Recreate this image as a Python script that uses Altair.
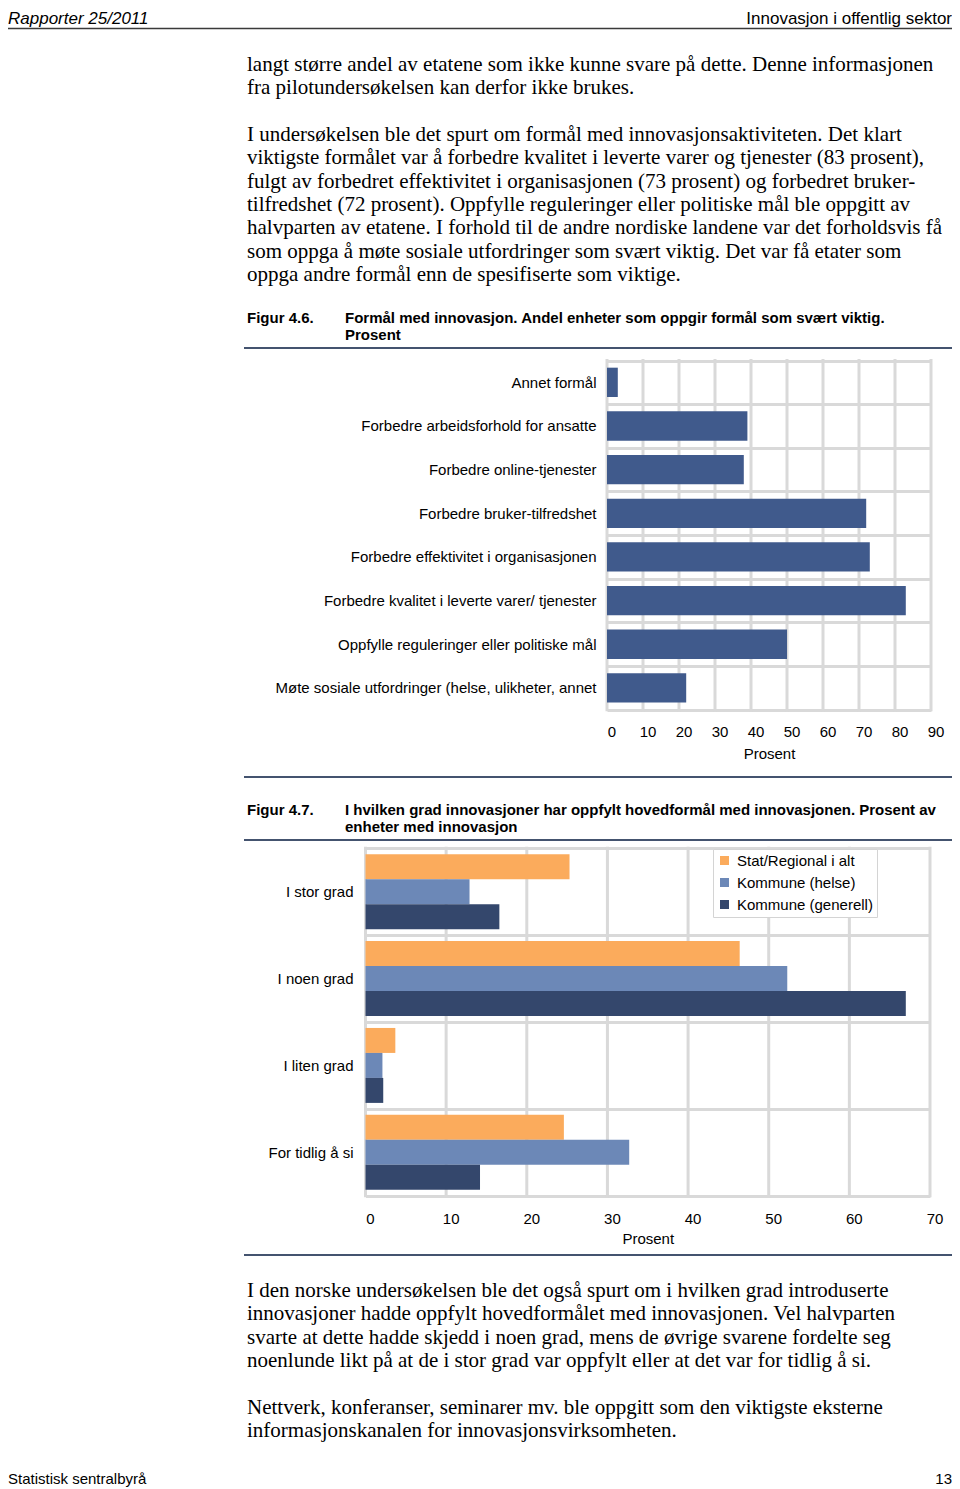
import altair as alt
import pandas as pd

# ---------------- content ----------------
header_left = "Rapporter 25/2011"
header_right = "Innovasjon i offentlig sektor"
footer_left = "Statistisk sentralbyrå"
footer_right = "13"

paragraph_1 = [
    "langt større andel av etatene som ikke kunne svare på dette. Denne informasjonen",
    "fra pilotundersøkelsen kan derfor ikke brukes.",
]
paragraph_2 = [
    "I undersøkelsen ble det spurt om formål med innovasjonsaktiviteten. Det klart",
    "viktigste formålet var å forbedre kvalitet i leverte varer og tjenester (83 prosent),",
    "fulgt av forbedret effektivitet i organisasjonen (73 prosent) og forbedret bruker-",
    "tilfredshet (72 prosent). Oppfylle reguleringer eller politiske mål ble oppgitt av",
    "halvparten av etatene. I forhold til de andre nordiske landene var det forholdsvis få",
    "som oppga å møte sosiale utfordringer som svært viktig. Det var få etater som",
    "oppga andre formål enn de spesifiserte som viktige.",
]
paragraph_3 = [
    "I den norske undersøkelsen ble det også spurt om i hvilken grad introduserte",
    "innovasjoner hadde oppfylt hovedformålet med innovasjonen. Vel halvparten",
    "svarte at dette hadde skjedd i noen grad, mens de øvrige svarene fordelte seg",
    "noenlunde likt på at de i stor grad var oppfylt eller at det var for tidlig å si.",
]
paragraph_4 = [
    "Nettverk, konferanser, seminarer mv. ble oppgitt som den viktigste eksterne",
    "informasjonskanalen for innovasjonsvirksomheten.",
]

fig1_label = "Figur 4.6."
fig1_caption = [
    "Formål med innovasjon. Andel enheter som oppgir formål som svært viktig.",
    "Prosent",
]
fig2_label = "Figur 4.7."
fig2_caption = [
    "I hvilken grad innovasjoner har oppfylt hovedformål med innovasjonen. Prosent av",
    "enheter med innovasjon",
]

# Figure 4.6 data
purpose_categories = [
    "Annet formål",
    "Forbedre arbeidsforhold for ansatte",
    "Forbedre online-tjenester",
    "Forbedre bruker-tilfredshet",
    "Forbedre effektivitet i organisasjonen",
    "Forbedre kvalitet i leverte varer/ tjenester",
    "Oppfylle reguleringer eller politiske mål",
    "Møte sosiale utfordringer (helse, ulikheter, annet",
]
purpose_values = [3, 39, 38, 72, 73, 83, 50, 22]
purpose_ticks = [0, 10, 20, 30, 40, 50, 60, 70, 80, 90]

# Figure 4.7 data
degree_categories = ["I stor grad", "I noen grad", "I liten grad", "For tidlig å si"]
series_names = ["Stat/Regional i alt", "Kommune (helse)", "Kommune (generell)"]
stat_values = [25.3, 46.4, 3.7, 24.6]
helse_values = [12.9, 52.3, 2.1, 32.7]
generell_values = [16.6, 67.0, 2.2, 14.2]
degree_ticks = [0, 10, 20, 30, 40, 50, 60, 70]
series_colors = ["#fbab5c", "#6c88b7", "#34476c"]

# ---------------- layout / style ----------------
W, H = 944, 1480
SANS = "Liberation Sans, Arial, sans-serif"
SERIF = "Liberation Serif, Times New Roman, serif"
GRID = "#d9d9d9"
RULE = "#44536f"


def one_row():
    return alt.Data(values=[{"k": 0}])


def text_mark(lines, x, y, size, font=SANS, weight="normal", style="normal",
              align="left", lh=None):
    kw = dict(align=align, baseline="alphabetic", font=font, fontSize=size,
              fontWeight=weight, fontStyle=style, color="black")
    if lh is not None:
        kw["lineHeight"] = lh
    return alt.Chart(one_row()).mark_text(**kw).encode(
        x=alt.value(x), y=alt.value(y), text=alt.value(lines)
    )


def hrule(y, x1, x2, color, width):
    return alt.Chart(one_row()).mark_rule(color=color, strokeWidth=width).encode(
        x=alt.value(x1), x2=alt.value(x2), y=alt.value(y)
    )


def axis(**extra):
    base = dict(domain=False, ticks=False, tickSize=0, grid=False,
                labelFont=SANS, labelFontSize=15,
                labelColor="black", labelFlush=False, labelOverlap=False,
                labelLimit=500, titleFont=SANS, titleFontSize=15,
                titleFontWeight="normal", titleColor="black")
    base.update(extra)
    return alt.Axis(**base)


def value_grid(ticks, domain, xr, y0, y1):
    return alt.Chart(pd.DataFrame({"t": ticks})).mark_rule(
        color=GRID, strokeWidth=3
    ).encode(
        x=alt.X("t:Q", scale=alt.Scale(domain=domain, range=xr, nice=False, zero=True),
                axis=None),
        y=alt.value(y0 - 1.5),
        y2=alt.value(y1 + 1.5),
    )


# ---------------- Figure 4.6 ----------------
c1_x0, c1_x1 = 599, 923
c1_y0, c1_y1 = 352.5, 701.7
df1 = pd.DataFrame({"kategori": purpose_categories, "prosent": purpose_values})
grid1 = value_grid(purpose_ticks, [0, 90], [c1_x0, c1_x1], c1_y0, c1_y1)
chart1 = alt.Chart(df1).mark_bar(size=29.3, color="#405a8c").encode(
    x=alt.X("prosent:Q",
            scale=alt.Scale(domain=[0, 90], range=[c1_x0, c1_x1], nice=False, zero=True),
            axis=axis(orient="bottom", offset=c1_y1 - H, values=purpose_ticks,
                      title="Prosent", labelPadding=14.5, labelOffset=4.5,
                      titleY=43.3, titleBaseline="middle")),
    y=alt.Y("kategori:N", sort=purpose_categories,
            scale=alt.Scale(range=[c1_y0, c1_y1], paddingInner=0, paddingOuter=0),
            axis=axis(orient="left", offset=-c1_x0, title=None, tickBand="extent",
                      grid=True, gridColor=GRID, gridWidth=3, gridOpacity=1,
                      labelPadding=11)),
)

# ---------------- Figure 4.7 ----------------
c2_x0, c2_x1 = 357.5, 922
c2_y0, c2_y1 = 840.3, 1187.7
df2 = pd.DataFrame({
    "grad": degree_categories * 3,
    "serie": [series_names[0]] * 4 + [series_names[1]] * 4 + [series_names[2]] * 4,
    "prosent": stat_values + helse_values + generell_values,
})
grid2 = value_grid(degree_ticks, [0, 70], [c2_x0, c2_x1], c2_y0, c2_y1)
chart2 = alt.Chart(df2).mark_bar().encode(
    x=alt.X("prosent:Q",
            scale=alt.Scale(domain=[0, 70], range=[c2_x0, c2_x1], nice=False, zero=True),
            axis=axis(orient="bottom", offset=c2_y1 - H, values=degree_ticks,
                      title="Prosent", labelPadding=15.5, labelOffset=4.5,
                      titleY=42.3, titleBaseline="middle")),
    y=alt.Y("grad:N", sort=degree_categories,
            scale=alt.Scale(range=[c2_y0, c2_y1], paddingInner=0, paddingOuter=0),
            axis=axis(orient="left", offset=-c2_x0, title=None, tickBand="extent",
                      grid=True, gridColor=GRID, gridWidth=3, gridOpacity=1,
                      labelPadding=12.5)),
    yOffset=alt.YOffset("serie:N", sort=series_names,
                        scale=alt.Scale(paddingInner=0, paddingOuter=0.238)),
    color=alt.Color("serie:N", sort=series_names,
                    scale=alt.Scale(domain=series_names, range=series_colors),
                    legend=alt.Legend(orient="none", legendX=705, legendY=841,
                                      title=None, direction="vertical",
                                      fillColor="white", strokeColor="#d4d4d4",
                                      padding=4, symbolType="square", symbolSize=81,
                                      symbolStrokeWidth=0, labelFont=SANS,
                                      labelFontSize=15, labelColor="black",
                                      labelOffset=5, rowPadding=6)),
)

# ---------------- page ----------------
layers = [
    text_mark(header_left, 0, 15.5, 17, style="italic"),
    text_mark(header_right, W, 15.5, 17, align="right"),
    hrule(20.5, 0, W, "#3a3a3a", 1.5),
    text_mark(paragraph_1, 239, 62.5, 21, font=SERIF, lh=23.3),
    text_mark(paragraph_2, 239, 133, 21, font=SERIF, lh=23.33),
    text_mark(fig1_label, 239, 315.4, 15, weight="bold"),
    text_mark(fig1_caption, 337, 315.4, 15, weight="bold", lh=17),
    hrule(340, 236, W, RULE, 2),
    grid1,
    chart1,
    hrule(769, 236, W, RULE, 2),
    text_mark(fig2_label, 239, 807.4, 15, weight="bold"),
    text_mark(fig2_caption, 337, 807.4, 15, weight="bold", lh=17),
    hrule(832, 236, W, RULE, 2),
    grid2,
    chart2,
    hrule(1247, 236, W, RULE, 2),
    text_mark(paragraph_3, 239, 1289, 21, font=SERIF, lh=23.3),
    text_mark(paragraph_4, 239, 1406, 21, font=SERIF, lh=23.3),
    text_mark(footer_left, 0, 1476, 15),
    text_mark(footer_right, W, 1476, 15, align="right"),
]

chart = (
    alt.layer(*layers)
    .resolve_scale(x="independent", y="independent", color="independent")
    .resolve_axis(x="independent", y="independent")
    .properties(width=W, height=H, padding=0,
                autosize=alt.AutoSizeParams(type="none"), background="white")
    .configure_view(stroke=None)
)

chart.save("out.html", embed_options={"renderer": "svg", "actions": False})
